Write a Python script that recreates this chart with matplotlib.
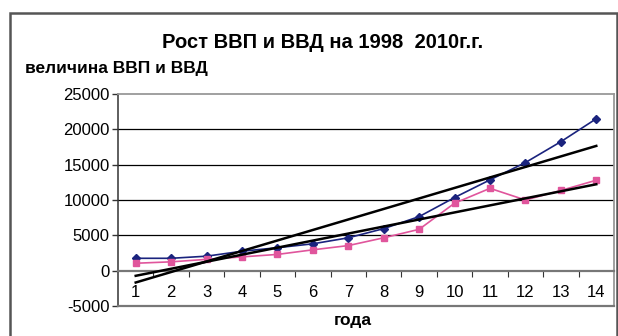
import numpy as np
import matplotlib.pyplot as plt
from matplotlib.patches import Rectangle

plt.rcParams['font.family'] = ['Liberation Sans', 'DejaVu Sans']

years = list(range(1, 15))
vvp = [1750, 1750, 2050, 2750, 3250, 3800, 4650, 5950, 7650, 10350, 12850, 15300, 18250, 21500]
vvd = [1050, 1250, 1600, 1950, 2300, 2950, 3550, 4650, 5850, 9550, 11650, 10000, 11350, 12800]
yticks = [-5000, 0, 5000, 10000, 15000, 20000, 25000]

W, H = 618, 336
fig = plt.figure(figsize=(W / 100, H / 100), dpi=100)
ax = fig.add_axes([118 / W, 1 - 306 / H, (614 - 118) / W, (306 - 94) / H])

# outer frame of the chart object
fig.patches.append(Rectangle((10 / W, -0.2), (616.5 - 10) / W, 1.2 - 12.7 / H,
                             transform=fig.transFigure, fill=False,
                             edgecolor='#555555', linewidth=1.8))

x = np.array(years)
for yy in yticks[2:-1]:
    ax.axhline(yy, color='black', linewidth=0.9, zorder=1)

ax.plot(x, vvp, color='#1a237e', marker='D', markersize=4, linewidth=1.2, zorder=3)
ax.plot(x, vvd, color='#e0559c', marker='s', markersize=5, linewidth=1.2, zorder=3)

# linear trends
for s in (vvp, vvd):
    k, b = np.polyfit(x, s, 1)
    ax.plot(x, k * x + b, color='black', linewidth=1.8, zorder=4)

ax.set_xlim(0.5, 14.5)
ax.set_ylim(-5000, 25000)
ax.set_yticks(yticks)
ax.set_yticklabels([str(v) for v in yticks], fontsize=12)
ax.tick_params(axis='y', length=4, width=1, color='#333333', pad=2)

ax.spines['bottom'].set_position(('data', 0))
ax.spines['bottom'].set_color('#777777')
ax.spines['bottom'].set_linewidth(1.6)
ax.spines['left'].set_color('#333333')
ax.spines['left'].set_linewidth(1.1)
for side in ('top', 'right'):
    ax.spines[side].set_color('#999999')
    ax.spines[side].set_linewidth(1.3)
ax.plot([0.5, 14.5], [-5000, -5000], color='#777777', linewidth=1.6,
        clip_on=False, zorder=5)

ax.set_xticks(np.arange(1.5, 14.5, 1))
ax.set_xticklabels([])
ax.tick_params(axis='x', which='major', direction='out', length=4, color='#333333')
ax.set_xticks(x, minor=True)
ax.set_xticklabels([str(v) for v in years], minor=True, fontsize=12)
ax.tick_params(axis='x', which='minor', length=0, pad=10)

fig.text(323 / W, 1 - 43 / H, 'Рост ВВП и ВВД на 1998  2010г.г.', ha='center', va='center',
         fontsize=14.5, fontweight='bold')
fig.text(25 / W, 1 - 69 / H, 'величина ВВП и ВВД', ha='left', va='center',
         fontsize=12.5, fontweight='bold')
fig.text(353 / W, 1 - 320 / H, 'года', ha='center', va='center',
         fontsize=12.5, fontweight='bold')

fig.savefig('out.png', dpi=100)
